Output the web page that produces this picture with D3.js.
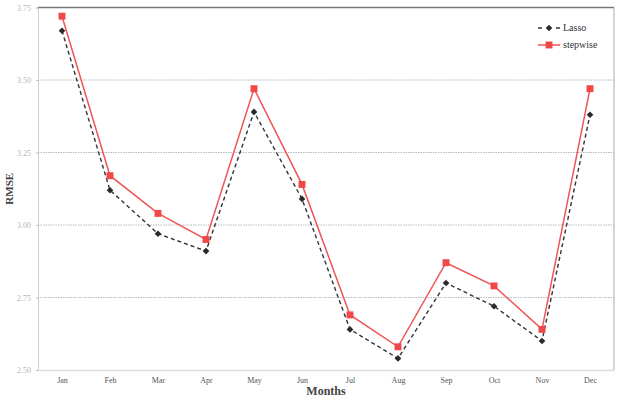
<!DOCTYPE html>
<html>
<head>
<meta charset="utf-8">
<script src="https://cdn.jsdelivr.net/npm/d3@7"></script>
<style>
	body { margin: 0; background: #fff; }
	svg { display: block; }
	svg text { font-family: "Liberation Serif", "Times New Roman", serif; }
</style>
</head>
<body>
<div id="chart"></div>
<script>
"use strict";

// Chart data
var months = ["Jan", "Feb", "Mar", "Apr", "May", "Jun", "Jul", "Aug", "Sep", "Oct", "Nov", "Dec"];
var lassoValues = [3.67, 3.12, 2.97, 2.91, 3.39, 3.09, 2.64, 2.54, 2.80, 2.72, 2.60, 3.38];
var stepwiseValues = [3.72, 3.17, 3.04, 2.95, 3.47, 3.14, 2.69, 2.58, 2.87, 2.79, 2.64, 3.47];
var yTicks = [2.50, 2.75, 3.00, 3.25, 3.50, 3.75];

// Graph dimensions
var width = 623,
	height = 397,
	margin = { top: 7.5, right: 9, bottom: 27, left: 38 };

var innerW = width - margin.left - margin.right,
	innerH = height - margin.top - margin.bottom;

var svg = d3.select("#chart").append("svg")
	.attr("width", width)
	.attr("height", height);

var canvas = svg.append("g")
	.attr("transform", "translate(" + margin.left + "," + margin.top + ")");

var x = d3.scalePoint()
	.domain(months)
	.range([0, innerW])
	.padding(0.5);

var y = d3.scaleLinear()
	.domain([2.5, 3.75])
	.range([innerH, 0]);

// Grid lines
canvas.selectAll(".grid")
	.data(yTicks.slice(1, -1))
	.enter().append("line")
	.attr("x1", 0)
	.attr("x2", innerW)
	.attr("y1", function (d) { return y(d); })
	.attr("y2", function (d) { return y(d); })
	.attr("stroke", "#b8b8b8")
	.attr("stroke-width", 1)
	.attr("stroke-dasharray", "1.5,1");

// Plot frame
canvas.append("line")
	.attr("x1", 0).attr("x2", innerW)
	.attr("y1", 0).attr("y2", 0)
	.attr("stroke", "#777").attr("stroke-width", 1.5);
canvas.append("line")
	.attr("x1", innerW).attr("x2", innerW)
	.attr("y1", 0).attr("y2", innerH)
	.attr("stroke", "#aaa").attr("stroke-width", 1);

// Y axis
var yAxis = d3.axisLeft(y)
	.tickValues(yTicks)
	.tickSize(2)
	.tickPadding(5)
	.tickFormat(d3.format(".2f"));

var yG = canvas.append("g").call(yAxis);
yG.attr("font-family", null);
yG.select(".domain").attr("stroke", "#ccc");
yG.selectAll(".tick line").attr("stroke", "#bbb");
yG.selectAll("text")
	.attr("fill", "#b5b5b5")
	.style("font-size", "8px");

// X axis
var xAxis = d3.axisBottom(x)
	.tickSize(0)
	.tickPadding(7);

var xG = canvas.append("g")
	.attr("transform", "translate(0," + innerH + ")")
	.call(xAxis);
xG.attr("font-family", null);
xG.select(".domain").attr("stroke", "#ddd").attr("stroke-width", 1.5);
xG.selectAll("text")
	.attr("fill", "#555")
	.style("font-size", "8px");

// Axis titles
svg.append("text")
	.attr("x", margin.left + innerW / 2)
	.attr("y", 395)
	.attr("text-anchor", "middle")
	.attr("fill", "#444")
	.style("font-size", "12px")
	.style("font-weight", "bold")
	.text("Months");

svg.append("text")
	.attr("transform", "translate(13," + (margin.top + innerH / 2) + "), rotate(-90)")
	.attr("text-anchor", "middle")
	.attr("fill", "#444")
	.style("font-size", "11px")
	.style("font-weight", "bold")
	.text("RMSE");

// Lines
var line = d3.line()
	.x(function (d, i) { return x(months[i]); })
	.y(function (d) { return y(d); });

canvas.append("path")
	.datum(lassoValues)
	.attr("d", line)
	.attr("fill", "none")
	.attr("stroke", "#333")
	.attr("stroke-width", 1.4)
	.attr("stroke-dasharray", "4,3");

canvas.append("path")
	.datum(stepwiseValues)
	.attr("d", line)
	.attr("fill", "none")
	.attr("stroke", "#ee5555")
	.attr("stroke-width", 1.5);

// Diamond = square rotated by 45 degrees
var diamond = d3.symbol().type(d3.symbolSquare).size(22);
var square = d3.symbol().type(d3.symbolSquare).size(48);

canvas.selectAll(".lasso")
	.data(lassoValues)
	.enter().append("path")
	.attr("d", diamond)
	.attr("transform", function (d, i) {
		return "translate(" + x(months[i]) + "," + y(d) + ") rotate(45)";
	})
	.attr("fill", "#2a2a2a");

canvas.selectAll(".stepwise")
	.data(stepwiseValues)
	.enter().append("path")
	.attr("d", square)
	.attr("transform", function (d, i) {
		return "translate(" + x(months[i]) + "," + y(d) + ")";
	})
	.attr("fill", "#f04848");

// Legend
var legend = svg.append("g")
	.attr("transform", "translate(538,28)");

legend.append("line")
	.attr("x1", 0).attr("x2", 22)
	.attr("y1", 0).attr("y2", 0)
	.attr("stroke", "#333").attr("stroke-width", 1.4)
	.attr("stroke-dasharray", "4,5");
legend.append("path")
	.attr("d", diamond)
	.attr("transform", "translate(11,0) rotate(45)")
	.attr("fill", "#2a2a2a");
legend.append("text")
	.attr("x", 25).attr("y", 3)
	.attr("fill", "#333")
	.style("font-size", "10px")
	.text("Lasso");

legend.append("line")
	.attr("x1", 0).attr("x2", 22)
	.attr("y1", 17).attr("y2", 17)
	.attr("stroke", "#ee5555").attr("stroke-width", 1.5);
legend.append("path")
	.attr("d", square)
	.attr("transform", "translate(11,17)")
	.attr("fill", "#f04848");
legend.append("text")
	.attr("x", 25).attr("y", 20)
	.attr("fill", "#333")
	.style("font-size", "10px")
	.text("stepwise");
</script>
</body>
</html>
